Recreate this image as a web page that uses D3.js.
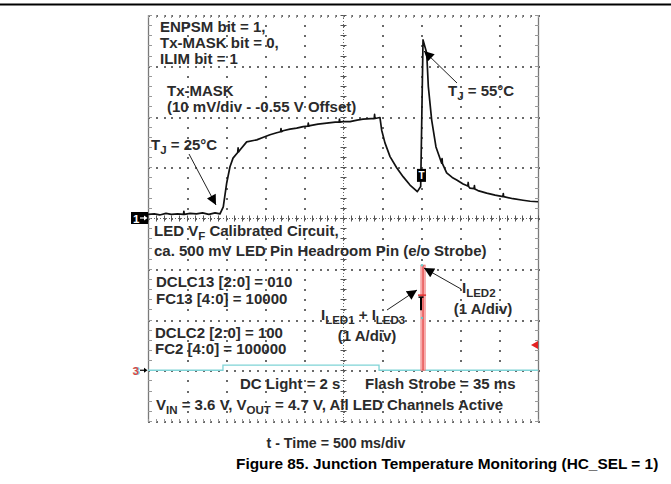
<!DOCTYPE html>
<html><head><meta charset="utf-8">
<script src="https://cdn.jsdelivr.net/npm/d3@7"></script>
<style>
html,body{margin:0;padding:0;background:#fff;}
svg text{font-family:"Liberation Sans",Arial,sans-serif;font-weight:bold;}
</style></head>
<body><svg id="c" width="671" height="484"></svg>
<script>
// ---- data ----
// Channel 1 (Tx-MASK), time in ms, value in mV (10 mV/div)
const txTime = [0,80,150,230,300,380,455,460,465,540,620,700,780,860,923,965,1009,1051,1090,1150,1155,1160,1179,1265,1394,1480,1564,1650,1700,1705,1710,1731,1820,1906,1990,2050,2055,2060,2077,2180,2291,2400,2450,2455,2460,2500,2590,2680,2756,2860,2900,2905,2910,2974,2996,3038,3103,3188,3273,3359,3410,3453,3496,3526,3573,3594,3637,3692,3765,3770,3775,3829,3900,3958,4040,4100,4105,4110,4128,4180,4185,4190,4230,4342,4450,4551,4555,4560,4680,4808,4900,5000];
const txMv   = [0.7,0.8,0.6,0.9,0.7,0.8,0.7,1.3,0.7,0.9,0.8,1.0,0.7,1.0,0.8,2.2,6.9,10.1,11.8,12.9,13.8,13.0,13.4,15.0,15.4,15.9,16.4,16.8,17.0,17.6,17.0,17.2,17.5,17.7,18.0,18.1,18.7,18.1,18.2,18.5,18.7,18.9,18.9,19.5,18.9,19.0,19.0,19.3,19.5,19.6,19.6,20.4,19.6,19.8,17.3,14.8,12.1,9.9,8.1,6.5,5.8,5.2,6.2,35.1,32.5,25.9,19.3,14.0,10.8,11.7,10.7,8.9,8.0,7.5,6.7,6.3,7.0,6.2,5.9,5.8,6.4,5.7,5.4,4.9,4.5,4.2,4.8,4.2,3.8,3.5,3.3,3.2];
// Channel 3 (LED currents), time in ms, current in A (1 A/div)
const dcTime = [0,961,961,2962,2962,5000];
const dcAmp  = [0,0,0.1,0.1,0,0];
const flashStart = 3500, flashEnd = 3552;
const iLed2Peak = 2.07, iLed13Level = 1.48;
const ch1OffsetDiv = 0, ch3OffsetDiv = -3;

// ---- layout ----
const svg = d3.select("#c");
const L=148,R=538,T=15,B=421;
const x = d3.scaleLinear().domain([0,5000]).range([L,R]);
const yDiv = d3.scaleLinear().domain([-4,4]).range([B,T]);
const y1 = v => yDiv(ch1OffsetDiv + v/10);
const y3 = a => yDiv(ch3OffsetDiv + a/1);
const divW = (R-L)/10, divH = (B-T)/8;

// top rule
svg.append("line").attr("x1",0).attr("x2",671).attr("y1",4.5).attr("y2",4.5).attr("stroke","#000").attr("stroke-width",1.8);

// grid (dotted)
const g = svg.append("g");
const dotCol = "#6a6a6a";
for(let i=1;i<10;i++){
  const xx = Math.round(L+i*divW);
  for(let k=0;k<=40;k++){
    g.append("rect").attr("x",xx).attr("y",Math.round(T+k*divH/5)).attr("width",2).attr("height",2).attr("fill",dotCol);
  }
}
for(let j=0;j<=8;j++){
  const yy = Math.round(T+j*divH);
  for(let k=0;k<=50;k++){
    g.append("rect").attr("x",Math.round(L+k*divW/5)).attr("y",yy).attr("width",2).attr("height",2).attr("fill",dotCol);
  }
}
// borders
[L,R].forEach(xx=>g.append("line").attr("x1",xx+0.5).attr("x2",xx+0.5).attr("y1",T).attr("y2",B+1).attr("stroke","#7a7a7a").attr("stroke-width",1.3));
// minor ticks on centre axes and borders
const cx = Math.round(L+5*divW)+0.5, cy = Math.round(T+4*divH)+0.5;
for(let k=0;k<=40;k++){
  const yy=Math.round(T+k*divH/5)+0.5;
  g.append("line").attr("x1",cx-3).attr("x2",cx+3).attr("y1",yy).attr("y2",yy).attr("stroke","#555").attr("stroke-width",1);
  g.append("line").attr("x1",L).attr("x2",L+4).attr("y1",yy).attr("y2",yy).attr("stroke","#999").attr("stroke-width",1);
  g.append("line").attr("x1",R-3).attr("x2",R+1).attr("y1",yy).attr("y2",yy).attr("stroke","#999").attr("stroke-width",1);
}
for(let k=0;k<=50;k++){
  const xx=Math.round(L+k*divW/5)+0.5;
  g.append("line").attr("x1",xx).attr("x2",xx).attr("y1",cy-3).attr("y2",cy+3).attr("stroke","#555").attr("stroke-width",1);
  g.append("line").attr("x1",xx).attr("x2",xx).attr("y1",T).attr("y2",T+3).attr("stroke","#999").attr("stroke-width",1);
  g.append("line").attr("x1",xx).attr("x2",xx).attr("y1",B-2).attr("y2",B+1).attr("stroke","#999").attr("stroke-width",1);
}
g.append("line").attr("x1",cx).attr("x2",cx).attr("y1",T).attr("y2",B).attr("stroke","#666").attr("stroke-width",1).attr("stroke-dasharray","1,2");
g.append("line").attr("x1",L).attr("x2",R).attr("y1",cy).attr("y2",cy).attr("stroke","#666").attr("stroke-width",1).attr("stroke-dasharray","1,2");

// channel 3 traces
const dcLine = d3.line().x((d,i)=>x(dcTime[i])).y((d,i)=>y3(dcAmp[i]));
svg.append("path").attr("d",dcLine(dcTime)).attr("fill","none").attr("stroke","#7fd3d6").attr("stroke-width",1.3);
svg.append("rect").attr("x",x(flashStart)).attr("width",x(flashEnd)-x(flashStart))
  .attr("y",y3(iLed2Peak)).attr("height",y3(0)-y3(iLed2Peak))
  .attr("fill","#fcdede").attr("stroke","#f07070").attr("stroke-width",1);
svg.append("line").attr("x1",x((flashStart+flashEnd)/2)).attr("x2",x((flashStart+flashEnd)/2))
  .attr("y1",y3(iLed2Peak)).attr("y2",y3(0)).attr("stroke","#e02020").attr("stroke-width",1.2);
svg.append("line").attr("x1",x(flashStart)-3).attr("x2",x(flashEnd)+1).attr("y1",y3(iLed13Level)).attr("y2",y3(iLed13Level)).attr("stroke","#e03030").attr("stroke-width",1.5);
[iLed2Peak, iLed13Level-0.45].forEach(a=>{
  svg.append("circle").attr("cx",x(flashStart)+1).attr("cy",y3(a)).attr("r",1.2).attr("fill","#66cccc");
});
// small T glyph on flash
const tgx = x(flashStart), tgy = y3(iLed13Level);
svg.append("line").attr("x1",tgx-2.5).attr("x2",tgx+2.5).attr("y1",tgy+2).attr("y2",tgy+2).attr("stroke","#000").attr("stroke-width",1.5);
svg.append("line").attr("x1",tgx).attr("x2",tgx).attr("y1",tgy+2).attr("y2",tgy+15).attr("stroke","#000").attr("stroke-width",2);
// red right-side marker
svg.append("path").attr("d",`M${R-7},${y3(0.5)} L${R},${y3(0.5)-4} L${R},${y3(0.5)+4} Z`).attr("fill","#e42020");

// channel 1 trace
const txLine = d3.line().x((d,i)=>x(txTime[i])).y((d,i)=>y1(txMv[i]));
svg.append("path").attr("d",txLine(txTime)).attr("fill","none").attr("stroke","#111").attr("stroke-width",1.7).attr("stroke-linejoin","round");

// trigger marker T box on trace 1
const tbx = x(3506), tby = y1(8.4);
svg.append("rect").attr("x",tbx-4.5).attr("y",tby-6.5).attr("width",9).attr("height",13).attr("fill","#000");
svg.append("text").attr("x",tbx).attr("y",tby+4).attr("text-anchor","middle").attr("fill","#fff").attr("font-size",10).text("T");

// channel markers (drawn arrows)
function chArrow(yy,col){
  svg.append("line").attr("x1",140).attr("x2",146).attr("y1",yy).attr("y2",yy).attr("stroke",col).attr("stroke-width",1.2);
  svg.append("path").attr("d",`M147.5,${yy} L144,${yy-2.5} L144,${yy+2.5} Z`).attr("fill",col);
}
svg.append("rect").attr("x",131).attr("y",y1(0)-6).attr("width",17).attr("height",12).attr("fill","#000");
svg.append("text").attr("x",133).attr("y",y1(0)+4.5).attr("fill","#fff").attr("font-size",11.5).text("1");
chArrow(y1(0),"#fff");
svg.append("text").attr("x",133.5).attr("y",y3(0)+4.5).attr("fill","#66cccc").attr("font-size",11.5).text("3");
svg.append("text").attr("x",132.5).attr("y",y3(0)+4.5).attr("fill","#e03030").attr("font-size",11.5).attr("opacity",0.85).text("3");
chArrow(y3(0),"#000");

// arrows
const defs = svg.append("defs");
defs.append("marker").attr("id","ah").attr("viewBox","0 0 10 10").attr("refX",10).attr("refY",5)
  .attr("markerWidth",11).attr("markerHeight",10).attr("markerUnits","userSpaceOnUse").attr("orient","auto")
  .append("path").attr("d","M0,0 L10,5 L0,10 Z").attr("fill","#000");
function arrow(x1,y1_,x2,y2){
  svg.append("line").attr("x1",x1).attr("y1",y1_).attr("x2",x2).attr("y2",y2).attr("stroke","#222").attr("stroke-width",1).attr("marker-end","url(#ah)");
}
arrow(189,154,216,205);
arrow(457,83,424,51);
arrow(387,310,417,290);
arrow(461,289,424,268);

// text
const tc = "#2b2b2b";
const FS = 15;
function sub(xp,yp,segs,anchor,size){
  const t = svg.append("text").attr("x",xp).attr("y",yp).attr("fill",tc).attr("font-size",size||FS).attr("text-anchor",anchor||"start");
  let down=false;
  segs.forEach(([s,isSub])=>{
    const ts=t.append("tspan").text(s);
    if(isSub&&!down){ts.attr("dy",3.5).attr("font-size",11.5);down=true;}
    else if(isSub){ts.attr("font-size",11.5);}
    else if(!isSub&&down){ts.attr("dy",-3.5);down=false;}
  });
}
sub(160,32,[["ENPSM bit = 1,",false]]);
sub(160,48,[["Tx-MASK bit = 0,",false]]);
sub(160,64,[["ILIM bit = 1",false]]);
sub(167,96,[["Tx-MASK",false]]);
sub(167,112,[["(10 mV/div - -0.55 V Offset)",false]]);
sub(151,150,[["T",false],["J",true],[" = 25°C",false]]);
sub(448,96,[["T",false],["J",true],[" = 55°C",false]]);
sub(154,236,[["LED V",false],["F",true],[" Calibrated Circuit,",false]]);
sub(154,256,[["ca. 500 mV LED Pin Headroom Pin (e/o Strobe)",false]]);
sub(156,287,[["DCLC13 [2:0] = 010",false]]);
sub(156,304,[["FC13 [4:0] = 10000",false]]);
sub(155,338,[["DCLC2 [2:0] = 100",false]]);
sub(155,354,[["FC2 [4:0] = 100000",false]]);
sub(321,320,[["I",false],["LED1",true],[" + I",false],["LED3",true]]);
sub(367,341,[["(1 A/div)",false]],"middle");
sub(462,293,[["I",false],["LED2",true]]);
sub(483,314,[["(1 A/div)",false]],"middle");
sub(240,389,[["DC Light = 2 s",false]]);
sub(365,389,[["Flash Strobe = 35 ms",false]]);
sub(156,410,[["V",false],["IN",true],[" = 3.6 V, V",false],["OUT",true],[" = 4.7 V, All LED Channels Active",false]]);
sub(336,448,[["t - Time = 500 ms/div",false]],"middle",14.2);
svg.append("text").attr("x",236).attr("y",469).attr("fill","#000").attr("font-size",15.4).text("Figure 85. Junction Temperature Monitoring (HC_SEL = 1)");
</script></body></html>
